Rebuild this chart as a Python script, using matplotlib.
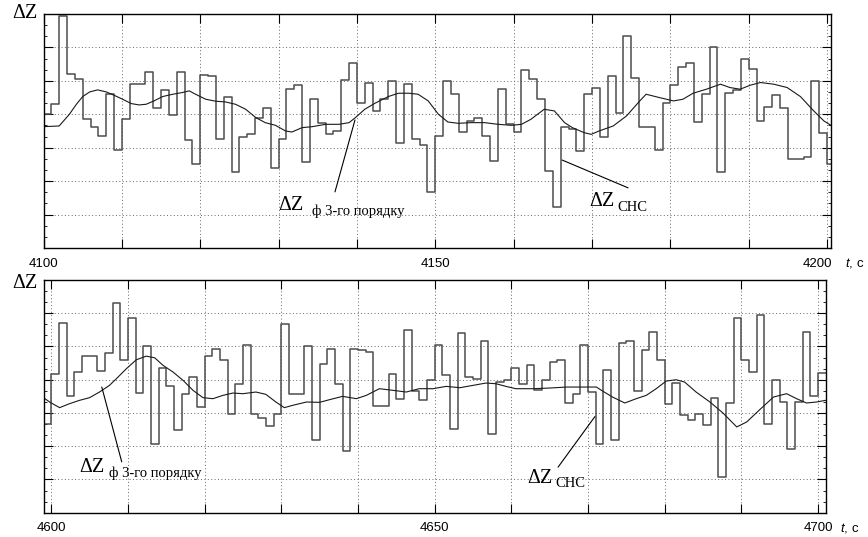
import numpy as np
import matplotlib
matplotlib.use('Agg')
import matplotlib.pyplot as plt
from matplotlib.ticker import MultipleLocator
from matplotlib.transforms import ScaledTranslation

plt.rcParams['font.family'] = ['Liberation Sans', 'DejaVu Sans']
plt.rcParams['mathtext.fontset'] = 'custom'
plt.rcParams['mathtext.it'] = 'Liberation Sans:italic'

# ---- data ----
# top panel, 1 s steps from 4100 s
t0_top = 4100
snc_top = [0.0, 0.32, 2.93, 1.2, 1.05, -0.15, -0.37, -0.65, 0.62, -1.07,
           -0.15, 0.9, 0.9, 1.27, 0.18, 0.73, -0.03, 1.27, -0.77, -1.5,
           1.18, 1.15, -0.73, 0.52, -1.72, -0.67, -0.6, -0.1, 0.19, -1.6,
           -0.75, 0.75, 0.88, -1.42, 0.45, -0.27, -0.6, -0.5, 1.03, 1.53,
           0.33, 0.95, 0.1, 0.47, 1.0, -0.85, 0.9, -0.73, -0.93, -2.32,
           -0.65, 1.0, 0.6, -0.53, -0.2, -0.1, -0.65, -1.4, 0.75, -0.3,
           -0.53, 1.33, 1.05, 0.45, -1.7, -2.77, -0.37, -0.43, -1.1, 0.6,
           0.8, -0.67, 1.15, 0.05, 2.33, 1.1, -0.37, -0.37, -1.07, 0.33,
           0.87, 1.4, 1.53, -0.23, 0.6, 2.0, -1.73, 0.63, 0.73, 1.65,
           1.35, -0.2, 0.23, 0.57, 0.2, -1.35, -1.35, -1.27, 1.0, -0.55,
           -1.5]
filt_top_t = [4100, 4102.0, 4103.3, 4104.2, 4105.0, 4105.9, 4106.9, 4108.0,
              4109.0, 4110.1, 4111.2, 4112.2, 4113.1, 4114.1, 4115.2, 4116.5,
              4117.7, 4118.6, 4119.4, 4120.7, 4122.0, 4123.2, 4124.5, 4125.8,
              4127.1, 4128.3, 4129.6, 4130.9, 4131.7, 4133.0, 4134.3, 4136.0,
              4137.7, 4139.0, 4139.8, 4141.0, 4142.3, 4144.0, 4145.3, 4146.6,
              4147.8, 4149.1, 4150.4, 4151.6, 4152.9, 4154.6, 4156.3, 4158.0,
              4159.7, 4161.0, 4162.2, 4163.9, 4165.2, 4166.5, 4167.5, 4169.0,
              4169.9, 4170.9, 4172.7, 4174.4, 4176.1, 4176.9, 4178.6, 4180.4,
              4181.6, 4182.9, 4184.6, 4186.4, 4187.6, 4188.9, 4190.2, 4191.5,
              4193.2, 4194.9, 4196.6, 4198.3, 4199.6, 4200.5]
filt_top_v = [-0.37, -0.35, 0.0, 0.3, 0.53, 0.67, 0.73, 0.67,
              0.57, 0.45, 0.32, 0.28, 0.3, 0.4, 0.53, 0.6,
              0.65, 0.7, 0.6, 0.45, 0.39, 0.37, 0.3, 0.15,
              -0.1, -0.25, -0.33, -0.5, -0.53, -0.4, -0.37, -0.3,
              -0.3, -0.25, -0.1, 0.15, 0.33, 0.53, 0.63, 0.63,
              0.6, 0.4, 0.0, -0.23, -0.27, -0.25, -0.25, -0.3,
              -0.33, -0.3, -0.15, 0.15, 0.1, -0.25, -0.4, -0.55,
              -0.6, -0.5, -0.35, -0.05, 0.4, 0.6, 0.5, 0.4,
              0.45, 0.63, 0.75, 0.9, 0.8, 0.75, 0.87, 0.95,
              0.9, 0.8, 0.53, 0.1, -0.2, -0.33]

# bottom panel, 1 s steps from 4599 s
t0_bot = 4599
snc_bot = [-1.34, 0.16, 1.7, -0.5, 0.23, 0.7, 0.7, 0.26, 0.8, 2.3,
           0.6, 1.86, -0.4, 1.0, -1.94, 0.36, -0.2, -1.5, -0.44, 0.08,
           -0.82, 0.7, 0.93, 0.58, -1.04, -0.12, 1.03, -1.04, -1.14, -1.4,
           -1.04, 1.68, -0.42, -0.42, 1.0, -1.82, 0.46, 0.92, -0.14, -2.15,
           0.92, 0.9, 0.83, -0.8, -0.8, 0.16, -0.57, 1.5, -0.34, -0.6,
           -0.02, 1.03, 0.13, -1.47, 1.4, 0.08, 0.03, 1.15, -1.62, -0.08,
           -0.02, 0.36, -0.12, 0.45, -0.32, -0.02, 0.53, 0.6, -0.7, -0.44,
           1.03, -0.37, -1.94, 0.3, -1.82, 1.1, 1.15, -0.34, 0.9, 1.43,
           0.58, -0.72, -0.09, -1.07, -1.22, -1.02, -1.37, -0.54, -2.94, -0.7,
           1.85, 0.6, 0.23, 1.96, -1.32, -0.02, -0.67, -2.07, -0.67, 1.43,
           -0.5, 0.2]
filt_bot_t = [4599, 4599.8, 4601.1, 4602.4, 4603.7, 4605.0, 4606.3, 4607.6,
              4608.5, 4609.8, 4611.1, 4612.4, 4613.5, 4614.6, 4615.9, 4617.2,
              4618.5, 4619.8, 4621.1, 4622.4, 4623.7, 4625.0, 4626.7, 4628.0,
              4629.3, 4630.4, 4631.5, 4633.3, 4635.0, 4636.3, 4638.0, 4639.8,
              4641.1, 4642.8, 4644.6, 4646.3, 4648.0, 4649.8, 4651.5, 4653.3,
              4655.0, 4656.7, 4658.0, 4659.3, 4660.6, 4662.8, 4665.0, 4667.2,
              4668.9, 4671.1, 4671.9, 4673.2, 4674.8, 4676.3, 4677.6, 4678.9,
              4680.2, 4681.5, 4682.6, 4684.1, 4685.9, 4687.6, 4689.4, 4690.7,
              4692.4, 4694.2, 4695.9, 4697.2, 4698.5, 4699.8, 4701.0]
filt_bot_v = [-0.54, -0.67, -0.84, -0.72, -0.62, -0.54, -0.37, -0.17,
              0.03, 0.33, 0.6, 0.71, 0.66, 0.43, 0.23, -0.02,
              -0.32, -0.54, -0.57, -0.47, -0.4, -0.42, -0.37, -0.44,
              -0.67, -0.84, -0.77, -0.67, -0.68, -0.6, -0.5, -0.57,
              -0.47, -0.27, -0.32, -0.37, -0.27, -0.27, -0.2, -0.24,
              -0.17, -0.1, -0.12, -0.2, -0.27, -0.27, -0.25, -0.22,
              -0.22, -0.22, -0.34, -0.52, -0.7, -0.57, -0.47, -0.27,
              -0.04, 0.0, -0.07, -0.37, -0.67, -1.0, -1.42, -1.27,
              -0.9, -0.52, -0.42, -0.57, -0.7, -0.67, -0.62]

xticks_top = [4100, 4150, 4200]
xticks_bot = [4600, 4650, 4700]

sub_f = 'ф 3-го порядку'
sub_snc = 'СНС'

# ---- figure ----
W, H = 868, 537
fig = plt.figure(figsize=(W / 100, H / 100), dpi=100)
ax1 = fig.add_axes([43.5 / W, 1 - 248 / H, (831 - 43.5) / W, 234 / H])
ax2 = fig.add_axes([43.5 / W, 1 - 512.7 / H, (825.7 - 43.5) / W, 232.7 / H])


def draw_panel(ax, t0, snc, ft, fv, xlim, xticks):
    t = np.arange(len(snc) + 1) + t0
    ax.plot(t, list(snc) + [snc[-1]], drawstyle='steps-post',
            color='0.3', lw=1.1)
    ax.plot(ft, fv, color='0.1', lw=0.8)
    ax.set_xlim(*xlim)
    ax.set_ylim(-4, 3)
    ax.set_xticks(np.arange(xticks[0], xticks[-1] + 1, 10))
    ax.set_xticklabels([str(v) if v in xticks else '' for v in
                        np.arange(xticks[0], xticks[-1] + 1, 10)])
    ax.set_yticks(np.arange(-3, 3, 1))
    ax.yaxis.set_minor_locator(MultipleLocator(1 / 3))
    ax.tick_params(which='major', direction='in', top=True, right=True,
                   length=6.5, width=0.8, labelleft=False, labelsize=9.5,
                   pad=7)
    ax.tick_params(which='minor', direction='in', left=True, right=True,
                   length=2, width=0.6)
    ax.grid(True, which='major', color='0.4', lw=0.7,
            linestyle=(0, (1, 2.5)))
    for s in ax.spines.values():
        s.set_linewidth(1.0)
    ax.text(1.018, -0.065, r'$t$, c', transform=ax.transAxes, fontsize=9.5,
            ha='left', va='center')


draw_panel(ax1, t0_top, snc_top, filt_top_t, filt_top_v, (4100, 4200.5),
           xticks_top)
draw_panel(ax2, t0_bot, snc_bot, filt_bot_t, filt_bot_v, (4599, 4701),
           xticks_bot)

# nudge last top label left as in the original
lab = ax1.get_xticklabels()[-1]
lab.set_transform(lab.get_transform() + ScaledTranslation(-7 / 72, 0, fig.dpi_scale_trans))

serif = ['Liberation Serif', 'DejaVu Serif']


def label(ax, xy_dz, sub, xy_line_a, xy_line_b, sub_dx):
    ax.annotate('', xy=xy_line_b, xytext=xy_line_a,
                arrowprops=dict(arrowstyle='-', lw=0.8, color='k',
                                shrinkA=0, shrinkB=0))
    ax.text(xy_dz[0], xy_dz[1], 'ΔZ', fontsize=14.5, family=serif,
            ha='left', va='center')
    ax.text(xy_dz[0] + sub_dx, xy_dz[1] - 0.17, sub, fontsize=10.5,
            family=serif, ha='left', va='center')


label(ax1, (4130.0, -2.72), sub_f, (4137.2, -2.32), (4139.75, -0.17), 4.3)
label(ax1, (4169.6, -2.62), sub_snc, (4174.6, -2.2), (4166.2, -1.37), 3.6)
label(ax2, (4603.7, -2.63), sub_f, (4609.2, -2.47), (4606.6, -0.22), 3.8)
label(ax2, (4662.1, -2.96), sub_snc, (4666.1, -2.63), (4670.9, -1.11), 3.6)

fig.text(25 / W, 1 - 13 / H, 'ΔZ', fontsize=14.5, family=serif,
         ha='center', va='center')
fig.text(25 / W, 1 - 284 / H, 'ΔZ', fontsize=14.5, family=serif,
         ha='center', va='center')

fig.savefig('out.png', dpi=100)
